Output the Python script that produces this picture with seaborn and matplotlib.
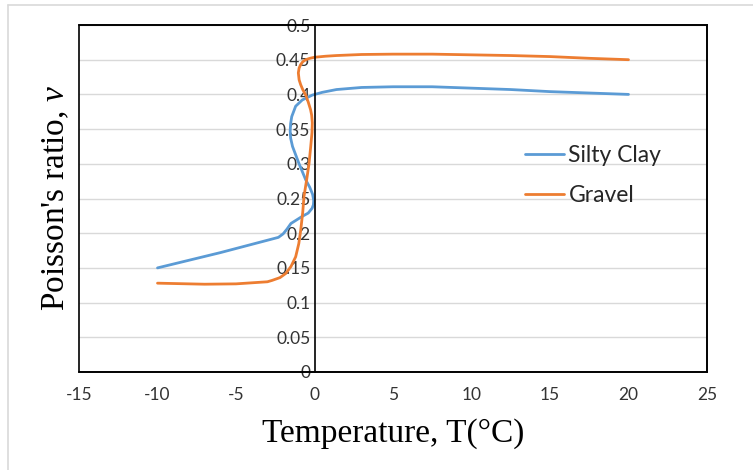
import numpy as np
import pandas as pd
import matplotlib
matplotlib.use("Agg")
import matplotlib.pyplot as plt
import seaborn as sns
from matplotlib.lines import Line2D
from matplotlib.patches import Rectangle

# ---- data ----
clay_T = [-10.0, -6.0, -2.3, -2.0, -1.75, -1.5, -0.8, -0.4, -0.15, -0.07, -0.05, -0.12, -0.3, -0.56,
          -1.0, -1.4, -1.52, -1.55, -1.52, -1.45, -1.2, -0.78, -0.14, 0.5, 1.4, 3.0, 5.0, 7.5,
          10.0, 12.5, 15.0, 17.5, 20.0]
clay_v = [0.150, 0.172, 0.194, 0.199, 0.206, 0.214, 0.224, 0.229, 0.236, 0.241, 0.247, 0.256, 0.266, 0.277,
          0.301, 0.325, 0.337, 0.347, 0.358, 0.368, 0.383, 0.392, 0.399, 0.403, 0.407, 0.410, 0.411, 0.411,
          0.409, 0.407, 0.404, 0.402, 0.400]

gravel_T = [-10.0, -7.0, -5.0, -3.0, -2.7, -2.2, -1.83, -1.5, -1.2, -1.0, -0.88, -0.75, -0.67, -0.5,
            -0.35, -0.24, -0.16, -0.14, -0.18, -0.25, -0.4, -0.56, -0.75, -0.88, -0.98, -1.03, -0.98,
            -0.88, -0.75, -0.56, -0.3, 0.0, 0.7, 1.4, 3.0, 5.0, 7.5, 10.0, 12.5, 15.0, 17.5, 20.0]
gravel_v = [0.128, 0.1265, 0.127, 0.130, 0.132, 0.136, 0.142, 0.152, 0.166, 0.185, 0.204, 0.230, 0.253, 0.277,
            0.300, 0.325, 0.345, 0.359, 0.370, 0.378, 0.389, 0.399, 0.407, 0.414, 0.421, 0.431, 0.438,
            0.443, 0.447, 0.450, 0.452, 0.4535, 0.455, 0.456, 0.4575, 0.458, 0.458, 0.457, 0.456, 0.4545,
            0.452, 0.450]

x_ticks = [-15, -10, -5, 0, 5, 10, 15, 20, 25]
y_ticks = [0, 0.05, 0.1, 0.15, 0.2, 0.25, 0.3, 0.35, 0.4, 0.45, 0.5]
y_labels = ["0", "0.05", "0.1", "0.15", "0.2", "0.25", "0.3", "0.35", "0.4", "0.45", "0.5"]

series_names = ["Silty Clay", "Gravel"]
colors = ["#5B9BD5", "#ED7D31"]

df = pd.concat([
    pd.DataFrame({"T": clay_T, "v": clay_v, "s": series_names[0]}),
    pd.DataFrame({"T": gravel_T, "v": gravel_v, "s": series_names[1]}),
], ignore_index=True)

sns.set_theme(style="white")
plt.rcParams["font.family"] = ["Lato", "DejaVu Sans"]
plt.rcParams["mathtext.fontset"] = "custom"
plt.rcParams["mathtext.it"] = "Liberation Serif:italic"
plt.rcParams["mathtext.rm"] = "Liberation Serif"

fig = plt.figure(figsize=(7.53, 4.70), dpi=100)
ax = fig.add_axes([79 / 753, 1 - 372 / 470, 628 / 753, 347 / 470])

for name, col in zip(series_names, colors):
    sub = df[df["s"] == name]
    sns.lineplot(x=sub["T"].values, y=sub["v"].values, sort=False, estimator=None,
                 color=col, linewidth=2.0, ax=ax, legend=False)
for ln in ax.lines:
    ln.set_solid_joinstyle("round")
    ln.set_solid_capstyle("round")

ax.set_xlim(-15, 25)
ax.set_ylim(0, 0.5)
ax.set_xticks(x_ticks)
ax.set_xticklabels([str(t) for t in x_ticks])
ax.set_yticks(y_ticks)
ax.set_yticklabels(y_labels)

ax.grid(axis="y", color="#d9d9d9", linewidth=1.0)
ax.grid(axis="x", visible=False)
ax.set_axisbelow(True)

for s in ["top", "right", "bottom"]:
    ax.spines[s].set_visible(True)
    ax.spines[s].set_color("black")
    ax.spines[s].set_linewidth(1.2)
ax.spines["left"].set_position(("data", 0))
ax.spines["left"].set_color("black")
ax.spines["left"].set_linewidth(1.2)
ax.add_patch(Rectangle((0, 0), 1, 1, transform=ax.transAxes, fill=False,
                       edgecolor="black", linewidth=1.2, zorder=5, clip_on=False))

ax.tick_params(axis="y", length=0, pad=3, labelsize=12.5, colors="#333333")
ax.tick_params(axis="x", length=0, pad=11, labelsize=12.5, colors="#333333")
for lab in ax.get_yticklabels():
    lab.set_zorder(6)

ax.set_xlabel("Temperature, T(°C)", fontfamily="Liberation Serif", fontsize=24, color="black", labelpad=11)
ax.set_ylabel("Poisson's ratio, $\\mathit{\\nu}$", fontfamily="Liberation Serif", fontsize=24, color="black")
ax.yaxis.set_label_coords(-0.012, 0.5, transform=ax.transAxes)

handles = [Line2D([0], [0], color=c, linewidth=2.0) for c in colors]
ax.legend(handles, series_names, loc="center left", bbox_to_anchor=(0.71, 0.566),
          frameon=False, fontsize=16.5, handlelength=1.7, handletextpad=0.2,
          labelspacing=0.8, borderpad=0, borderaxespad=0)

# outer chart border (top and left only visible)
fig.add_artist(Line2D([8 / 753, 8 / 753], [0, 1 - 4.5 / 470], transform=fig.transFigure,
                      color="#d9d9d9", linewidth=1.2))
fig.add_artist(Line2D([8 / 753, 1], [1 - 4.5 / 470, 1 - 4.5 / 470], transform=fig.transFigure,
                      color="#d9d9d9", linewidth=1.2))

fig.savefig("out.png", dpi=100)
